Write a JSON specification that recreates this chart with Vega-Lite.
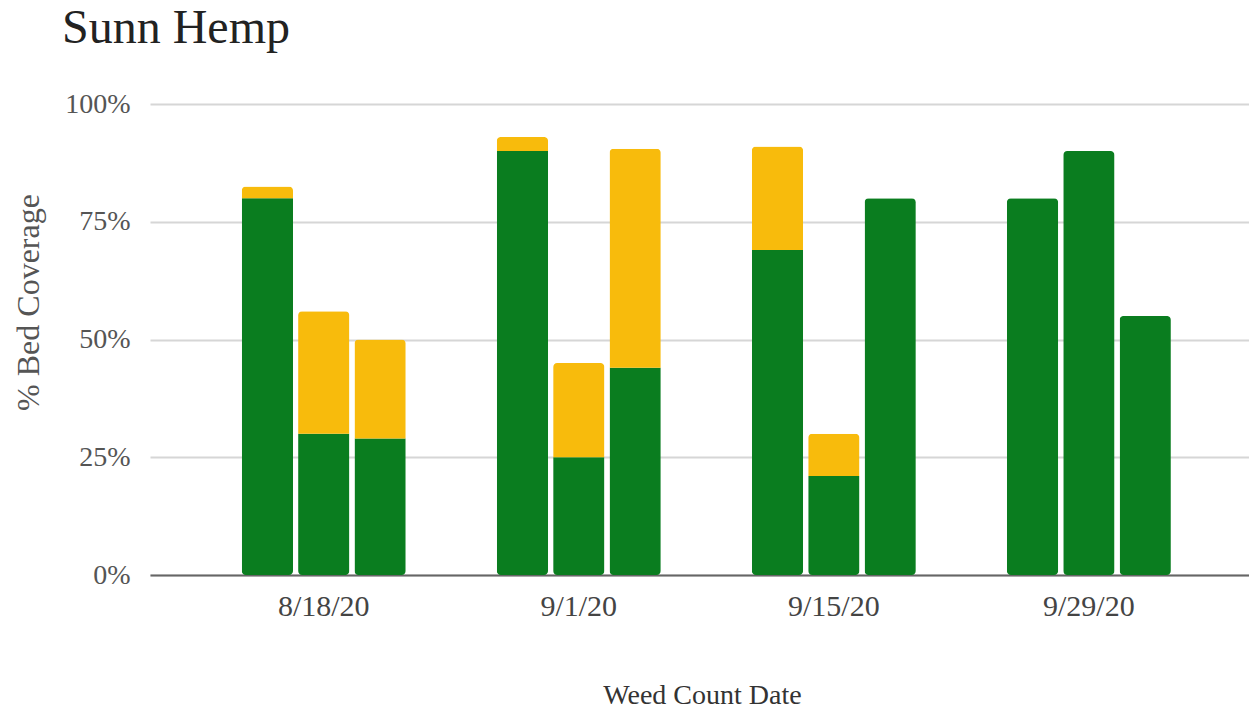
{
  "$schema": "https://vega.github.io/schema/vega-lite/v6.json",
  "width": 1099,
  "height": 471,
  "autosize": {"type": "none"},
  "padding": {"left": 150, "top": 104, "right": 0, "bottom": 136},
  "background": "white",
  "title": {
    "text": "Sunn Hemp",
    "anchor": "start",
    "frame": "group",
    "font": "Liberation Serif",
    "fontSize": 48,
    "fontWeight": "normal",
    "color": "#222222",
    "dx": -88,
    "dy": 21,
    "baseline": "alphabetic",
    "offset": 20
  },
  "data": {
    "values": [
      {"date": "8/18/20", "bar": 1, "type": "Crop", "ord": 1, "value": 80},
      {"date": "8/18/20", "bar": 1, "type": "Weeds", "ord": 2, "value": 2.5},
      {"date": "8/18/20", "bar": 2, "type": "Crop", "ord": 1, "value": 30},
      {"date": "8/18/20", "bar": 2, "type": "Weeds", "ord": 2, "value": 26},
      {"date": "8/18/20", "bar": 3, "type": "Crop", "ord": 1, "value": 29},
      {"date": "8/18/20", "bar": 3, "type": "Weeds", "ord": 2, "value": 21},
      {"date": "9/1/20", "bar": 1, "type": "Crop", "ord": 1, "value": 90},
      {"date": "9/1/20", "bar": 1, "type": "Weeds", "ord": 2, "value": 3},
      {"date": "9/1/20", "bar": 2, "type": "Crop", "ord": 1, "value": 25},
      {"date": "9/1/20", "bar": 2, "type": "Weeds", "ord": 2, "value": 20},
      {"date": "9/1/20", "bar": 3, "type": "Crop", "ord": 1, "value": 44},
      {"date": "9/1/20", "bar": 3, "type": "Weeds", "ord": 2, "value": 46.5},
      {"date": "9/15/20", "bar": 1, "type": "Crop", "ord": 1, "value": 69},
      {"date": "9/15/20", "bar": 1, "type": "Weeds", "ord": 2, "value": 22},
      {"date": "9/15/20", "bar": 2, "type": "Crop", "ord": 1, "value": 21},
      {"date": "9/15/20", "bar": 2, "type": "Weeds", "ord": 2, "value": 9},
      {"date": "9/15/20", "bar": 3, "type": "Crop", "ord": 1, "value": 80},
      {"date": "9/29/20", "bar": 1, "type": "Crop", "ord": 1, "value": 80},
      {"date": "9/29/20", "bar": 2, "type": "Crop", "ord": 1, "value": 90},
      {"date": "9/29/20", "bar": 3, "type": "Crop", "ord": 1, "value": 55}
    ]
  },
  "mark": {"type": "bar", "cornerRadius": 4},
  "encoding": {
    "x": {
      "field": "date",
      "type": "nominal",
      "sort": ["8/18/20", "9/1/20", "9/15/20", "9/29/20"],
      "scale": {"paddingInner": 0.357, "paddingOuter": 0.333, "align": 0.54},
      "axis": {
        "title": "Weed Count Date",
        "titleFont": "Liberation Serif",
        "titleFontSize": 28,
        "titleFontWeight": "normal",
        "titleColor": "#333333",
        "titleBaseline": "alphabetic",
        "titleAlign": "center",
        "titleX": 552,
        "titleY": 128,
        "labelFont": "Liberation Serif",
        "labelFontSize": 30,
        "labelColor": "#444444",
        "labelAngle": 0,
        "labelPadding": 16,
        "ticks": false,
        "domainColor": "#666666",
        "domainWidth": 2,
        "grid": false
      }
    },
    "xOffset": {
      "field": "bar",
      "type": "nominal",
      "scale": {"paddingInner": 0.09, "paddingOuter": 0}
    },
    "y": {
      "field": "value",
      "type": "quantitative",
      "stack": "zero",
      "scale": {"domain": [0, 100], "nice": false},
      "axis": {
        "title": "% Bed Coverage",
        "titleFont": "Liberation Serif",
        "titleFontSize": 32,
        "titleFontWeight": "normal",
        "titleColor": "#555555",
        "titleAngle": -90,
        "titleBaseline": "alphabetic",
        "titleAlign": "center",
        "titleX": -112,
        "titleY": 198,
        "values": [0, 25, 50, 75, 100],
        "labelExpr": "datum.value + '%'",
        "labelFont": "Liberation Serif",
        "labelFontSize": 28,
        "labelColor": "#555555",
        "labelPadding": 20,
        "ticks": false,
        "domain": false,
        "grid": true,
        "gridColor": "#d6d6d6",
        "gridWidth": 2
      }
    },
    "color": {
      "field": "type",
      "type": "nominal",
      "scale": {"domain": ["Crop", "Weeds"], "range": ["#0a7d1f", "#f8bb0c"]},
      "legend": null
    },
    "order": {"field": "ord", "type": "quantitative"}
  },
  "config": {
    "view": {"stroke": null}
  }
}
